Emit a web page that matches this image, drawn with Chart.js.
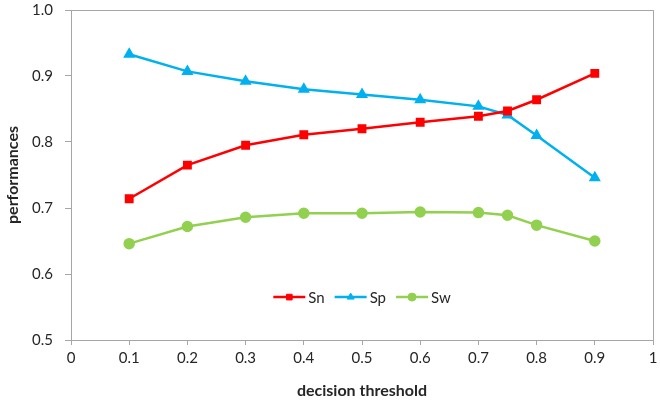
<!DOCTYPE html>
<html>
<head>
<meta charset="utf-8">
<script src="https://cdn.jsdelivr.net/npm/chart.js@4"></script>
<style>
  html, body { margin: 0; padding: 0; background: #fff; }
  #wrap { width: 660px; height: 400px; }
</style>
</head>
<body>
<div id="wrap"><canvas id="myChart" width="660" height="400"></canvas></div>
<script>
// decision thresholds on the x axis
const thresholds = [0.1, 0.2, 0.3, 0.4, 0.5, 0.6, 0.7, 0.75, 0.8, 0.9];
const sn = [0.714, 0.765, 0.795, 0.811, 0.820, 0.830, 0.839, 0.847, 0.864, 0.904];
const sp = [0.933, 0.907, 0.892, 0.880, 0.872, 0.864, 0.854, 0.841, 0.810, 0.746];
const sw = [0.646, 0.672, 0.686, 0.692, 0.692, 0.694, 0.693, 0.689, 0.674, 0.650];

const font = 'Lato, "Open Sans", sans-serif';
const axisGray = '#a6a6a6';
const textColor = '#262626';

const toPoints = (vals) => thresholds.map((t, i) => ({ x: t, y: vals[i] }));

// box around the plot area, like Excel
const frame = {
  id: 'frame',
  beforeDatasetsDraw(chart) {
    const { ctx, chartArea: a } = chart;
    ctx.save();
    ctx.strokeStyle = axisGray;
    ctx.lineWidth = 1;
    ctx.strokeRect(Math.round(a.left) + 0.5, Math.round(a.top) + 0.5,
      Math.round(a.right - a.left), Math.round(a.bottom - a.top));
    ctx.restore();
  }
};

// legend drawn inside the plot, near the bottom
const innerLegend = {
  id: 'innerLegend',
  afterDraw(chart) {
    const { ctx } = chart;
    const y = chart.scales.y.getPixelForValue(0.565);
    const lineLen = 32, gap = 3, spacing = 10;
    ctx.save();
    ctx.font = '15px ' + font;
    ctx.textBaseline = 'middle';
    const items = chart.data.datasets.map(ds => ({ ds, w: ctx.measureText(ds.label).width }));
    const total = items.reduce((s, it) => s + lineLen + gap + it.w, 0) + spacing * (items.length - 1);
    let x = (chart.chartArea.left + chart.chartArea.right) / 2 - total / 2;
    items.forEach(({ ds, w }) => {
      ctx.strokeStyle = ds.borderColor;
      ctx.lineWidth = 2.5;
      ctx.beginPath();
      ctx.moveTo(x, y);
      ctx.lineTo(x + lineLen, y);
      ctx.stroke();
      ctx.fillStyle = ds.borderColor;
      ctx.lineWidth = 1;
      Chart.helpers.drawPoint(ctx, {
        pointStyle: ds.pointStyle, radius: ds.pointRadius - 0.5,
        borderWidth: 1, rotation: 0
      }, x + lineLen / 2, y);
      ctx.fillStyle = textColor;
      ctx.fillText(ds.label, x + lineLen + gap, y + 1);
      x += lineLen + gap + w + spacing;
    });
    ctx.restore();
  }
};

function series(label, color, style, vals, r) {
  return {
    label: label,
    data: toPoints(vals),
    borderColor: color,
    backgroundColor: color,
    pointBackgroundColor: color,
    pointBorderColor: color,
    pointStyle: style,
    pointRadius: r,
    borderWidth: 2.5,
    tension: 0
  };
}

new Chart(document.getElementById('myChart').getContext('2d'), {
  type: 'line',
  data: {
    datasets: [
      series('Sn', '#ff0000', 'rect', sn, 4.5),
      series('Sp', '#00b0f0', 'triangle', sp, 4.5),
      series('Sw', '#92d050', 'circle', sw, 4.5)
    ]
  },
  plugins: [frame, innerLegend],
  options: {
    responsive: false,
    animation: false,
    layout: { padding: { top: 10, right: 7, left: 0, bottom: 0 } },
    plugins: {
      legend: { display: false },
      tooltip: { enabled: false }
    },
    scales: {
      x: {
        type: 'linear',
        min: 0,
        max: 1,
        afterFit: (s) => { s.height = 60; s.paddingRight = 0; s.paddingLeft = 0; },
        ticks: {
          stepSize: 0.1,
          padding: 4,
          color: textColor,
          font: { family: font, size: 15 },
          callback: (v) => String(+v.toFixed(1))
        },
        grid: { drawOnChartArea: false, drawTicks: true, tickLength: 5, color: axisGray },
        border: { color: axisGray },
        title: {
          display: true,
          text: 'decision threshold',
          color: textColor,
          font: { family: font, size: 16, weight: 'bold' },
          padding: { top: 6, bottom: 0 }
        }
      },
      y: {
        min: 0.5,
        max: 1.0,
        afterFit: (s) => { s.width = 71; s.paddingTop = 0; s.paddingBottom = 0; },
        ticks: {
          stepSize: 0.1,
          padding: 12,
          color: textColor,
          font: { family: font, size: 15 },
          callback: (v) => v.toFixed(1)
        },
        grid: { drawOnChartArea: false, drawTicks: true, tickLength: 6, color: axisGray },
        border: { color: axisGray },
        title: {
          display: true,
          text: 'performances',
          color: textColor,
          font: { family: font, size: 16, weight: 'bold' },
          padding: { top: 3, bottom: 4 }
        }
      }
    }
  }
});
</script>
</body>
</html>
